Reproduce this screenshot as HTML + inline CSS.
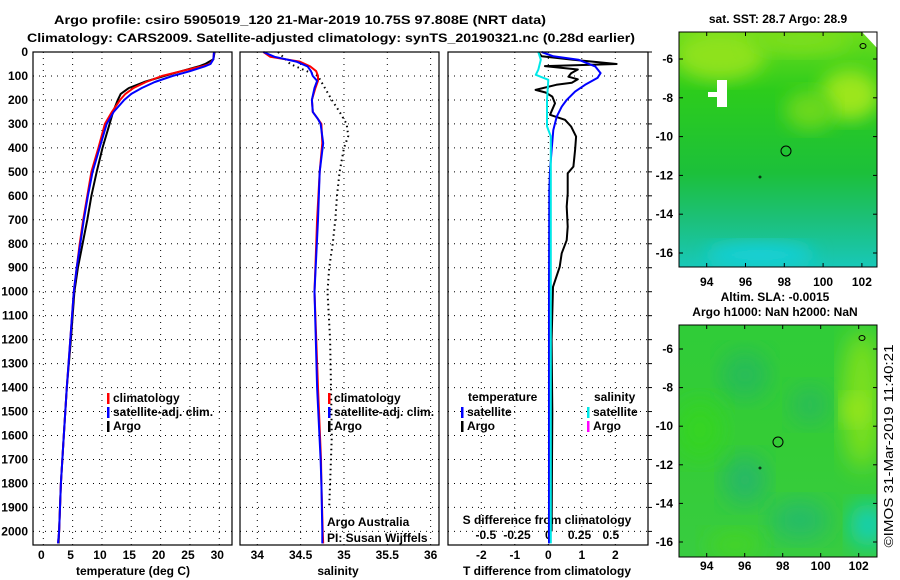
<!DOCTYPE html>
<html><head><meta charset="utf-8"><style>
html,body{margin:0;padding:0;background:#fff;}
svg{display:block;font-family:"Liberation Sans",Arial,sans-serif;}
.b{font-weight:bold;font-size:12px;}
</style></head><body>
<svg id="fig" width="900" height="580" viewBox="0 0 900 580" xmlns="http://www.w3.org/2000/svg">
<defs>
<filter id="blur1" x="-20%" y="-20%" width="140%" height="140%"><feGaussianBlur stdDeviation="9"/></filter>
<filter id="blur2" x="-20%" y="-20%" width="140%" height="140%"><feGaussianBlur stdDeviation="12"/></filter>
<clipPath id="cm1"><rect x="679" y="32" width="198" height="235"/></clipPath>
<clipPath id="cm2"><rect x="679" y="325" width="198" height="232"/></clipPath>
<linearGradient id="g1" x1="0" y1="0" x2="0" y2="1">
<stop offset="0" stop-color="#6cdc1c"/><stop offset="0.25" stop-color="#2ccc1c"/><stop offset="0.6" stop-color="#1cc03a"/><stop offset="0.8" stop-color="#1cc07a"/><stop offset="1" stop-color="#18c8b8"/></linearGradient>
<linearGradient id="g2" x1="0" y1="0" x2="0" y2="1">
<stop offset="0" stop-color="#30cc38"/><stop offset="0.5" stop-color="#34cc36"/><stop offset="1" stop-color="#38cc40"/></linearGradient>
</defs>
<text class="b" x="300" y="24" text-anchor="middle" font-size="13" textLength="492" lengthAdjust="spacingAndGlyphs">Argo profile: csiro 5905019_120 21-Mar-2019 10.75S 97.808E (NRT data)</text>
<text class="b" x="331" y="42" text-anchor="middle" font-size="13" textLength="608" lengthAdjust="spacingAndGlyphs">Climatology: CARS2009. Satellite-adjusted climatology: synTS_20190321.nc (0.28d earlier)</text>
<g id="panels"></g>
<g id="maps">
<text class="b" x="778" y="23" text-anchor="middle">sat. SST: 28.7 Argo: 28.9</text>
<g clip-path="url(#cm1)">
<rect x="679" y="32" width="198" height="235" fill="url(#g1)"/>
<ellipse cx="720" cy="55" rx="45" ry="25" fill="#8ee21a" filter="url(#blur1)"/>
<ellipse cx="800" cy="40" rx="50" ry="14" fill="#7ade1a" filter="url(#blur1)"/>
<ellipse cx="850" cy="95" rx="30" ry="25" fill="#9ce61a" filter="url(#blur1)"/>
<ellipse cx="810" cy="110" rx="25" ry="20" fill="#6ad81c" filter="url(#blur1)"/>
<ellipse cx="760" cy="255" rx="55" ry="12" fill="#12d0d8" filter="url(#blur1)"/>
<rect x="717" y="80" width="10" height="27" fill="#fff"/><rect x="708" y="92" width="12" height="5" fill="#fff"/>
<polygon points="862,32 877,32 877,48" fill="#fff"/>
</g>
<rect x="679" y="32" width="198" height="235" fill="none" stroke="#000"/>
<circle cx="786" cy="151" r="5" fill="none" stroke="#000"/>
<circle cx="760" cy="177" r="1" fill="none" stroke="#000" stroke-width="0.8"/>
<ellipse cx="863" cy="46" rx="3" ry="2.5" fill="none" stroke="#000"/>
<text class="b" x="775" y="301" text-anchor="middle">Altim. SLA: -0.0015</text>
<text class="b" x="775" y="316" text-anchor="middle">Argo h1000: NaN h2000: NaN</text>
<g clip-path="url(#cm2)">
<rect x="679" y="325" width="198" height="232" fill="url(#g2)"/>
<ellipse cx="745" cy="375" rx="25" ry="25" fill="#28bc58" filter="url(#blur2)"/>
<ellipse cx="745" cy="480" rx="22" ry="25" fill="#26b868" filter="url(#blur2)"/>
<ellipse cx="800" cy="520" rx="30" ry="20" fill="#26bc68" filter="url(#blur2)"/>
<ellipse cx="810" cy="405" rx="20" ry="20" fill="#2abc58" filter="url(#blur2)"/>
<ellipse cx="868" cy="525" rx="18" ry="22" fill="#10d0c0" filter="url(#blur2)"/>
<ellipse cx="862" cy="400" rx="20" ry="70" fill="#7ee01a" filter="url(#blur2)"/>
<ellipse cx="855" cy="410" rx="12" ry="14" fill="#a8ea1a" filter="url(#blur2)"/>
<ellipse cx="735" cy="545" rx="28" ry="14" fill="#44d420" filter="url(#blur2)"/>
<ellipse cx="700" cy="430" rx="25" ry="30" fill="#36d420" filter="url(#blur2)"/>
</g>
<rect x="679" y="325" width="198" height="232" fill="none" stroke="#000"/>
<circle cx="778" cy="442" r="5" fill="none" stroke="#000"/>
<circle cx="760" cy="468" r="1" fill="none" stroke="#000" stroke-width="0.8"/>
<ellipse cx="862" cy="338" rx="3" ry="2.5" fill="none" stroke="#000"/>
<text x="893" y="446" font-size="13" text-anchor="middle" transform="rotate(-90 893 446)" textLength="203" lengthAdjust="spacingAndGlyphs">©IMOS 31-Mar-2019 11:40:21</text>
</g>
</svg>
<script>
// ---- data ----
const depthTicks = [0,100,200,300,400,500,600,700,800,900,1000,1100,1200,1300,1400,1500,1600,1700,1800,1900,2000];
const tempTicks = [0,5,10,15,20,25,30];
const salTicks = [34,34.5,35,35.5,36];
const salTickLabels = ["34","34.5","35","35.5","36"];
const dTTicks = [-2,-1,0,1,2];
const dSTicks = [-0.5,-0.25,0,0.25,0.5];
const dSTickLabels = ["-0.5","-0.25","0","0.25","0.5"];
const lonTicks = [94,96,98,100,102];
const latTicks = [-6,-8,-10,-12,-14,-16];

const depthT = [0,30,50,60,80,100,125,150,175,200,250,300,400,500,600,700,800,900,1000,1200,1400,1600,1800,2000,2050];
const tClim = [29.1,29.0,28.4,27.0,23.5,20.2,17.5,15.4,14.0,13.1,11.7,10.5,9.4,8.2,7.5,6.8,6.2,5.7,5.2,4.6,4.0,3.5,3.0,2.7,2.5];
const tSat  = [29.1,29.0,28.5,27.5,25.0,22.0,19.0,16.8,15.0,13.8,12.0,10.8,9.6,8.4,7.6,6.9,6.3,5.7,5.2,4.6,4.0,3.5,3.0,2.7,2.5];
const tArgo = [29.2,29.0,27.6,26.5,23.5,20.6,17.2,14.6,13.2,12.7,11.9,11.3,10.1,9.1,8.2,7.5,6.7,5.9,5.3,4.7,4.0,3.5,3.0,2.7,2.6];

const depthS = [0,20,40,60,80,100,120,150,200,250,280,300,380,500,700,1000,1400,1700,1800,2000,2050];
const sClim = [34.07,34.15,34.49,34.61,34.68,34.70,34.70,34.67,34.63,34.64,34.70,34.74,34.75,34.72,34.69,34.66,34.70,34.735,34.74,34.755,34.76];
const sSat  = [34.07,34.20,34.45,34.58,34.62,34.64,34.69,34.66,34.63,34.64,34.70,34.73,34.76,34.72,34.70,34.66,34.69,34.73,34.74,34.75,34.75];
const depthSArgo = [0,50,100,150,200,250,300,350,400,500,600,700,800,900,1000,1200,1400,1600,1800,1900];
const sArgo = [34.24,34.38,34.70,34.78,34.86,34.95,35.03,35.05,35.0,34.95,34.92,34.90,34.87,34.83,34.81,34.84,34.85,34.86,34.84,34.83];

const depthDTArgo = [0,18,32,50,59,73,89,103,114,128,137,158,169,186,214,262,283,311,353,408,478,506,590,645,729,785,840,896,980,1200,1500,2000];
const dTArgo = [-0.3,-0.2,0.74,2.04,-0.1,0.88,0.68,0.6,0.88,0.7,0.24,-0.38,-0.08,0.12,0.2,0.05,0.5,0.68,0.83,0.8,0.75,0.58,0.58,0.55,0.58,0.55,0.4,0.34,0.14,0.1,0.12,0.1];
const depthDTSat = [0,18,32,60,88,108,137,165,200,228,270,326,410,494,578,1000,2000,2050];
const dTSat = [-0.2,0.15,0.9,1.4,1.56,1.47,1.1,0.8,0.55,0.4,0.25,0.15,0.1,0.05,0.03,0.02,0.02,0.02];
const depthDS = [0,32,74,95,116,200,310,352,500,1000,2000,2050];
const dSSat = [-0.08,-0.06,-0.08,-0.1,0.0,-0.01,-0.01,0.02,0.02,0.02,0.02,0.02];

// ---- axes ----
const TOP=52, BOT=545, PXD=0.2397;
const yD = d => TOP + d*PXD;
const xT = t => 43.3 + t*5.866;
const xS = s => 257.3 + (s-34)*86.67;
const xDT = v => 548.3 + v*33.5;
const xDS = v => 548.3 + v*125;
const P = [{x:33,w:199},{x:240,w:199},{x:448,w:200}];
const NS='http://www.w3.org/2000/svg';
const root=document.getElementById('panels');
function el(tag,attrs,parent){const e=document.createElementNS(NS,tag);for(const k in attrs)e.setAttribute(k,attrs[k]);(parent||root).appendChild(e);return e;}
function txt(x,y,s,anchor,parent,cls){const t=el('text',{x:x,y:y,'text-anchor':anchor||'middle','class':cls||'b'},parent);t.textContent=s;return t;}

P.forEach((p,i)=>{
  const g=el('g',{});
  
  
  depthTicks.forEach(d=>{ if(d>0){const l=el('line',{x1:p.x,x2:p.x+p.w,y1:yD(d),y2:yD(d),stroke:'#000','stroke-width':1,'stroke-dasharray':'1 5'},g);
    
    }});
});
function vgrid(vals,fx){vals.forEach(v=>{const l=el('line',{x1:fx(v),x2:fx(v),y1:TOP,y2:BOT,stroke:'#000','stroke-width':1,'stroke-dasharray':'1 5'});
  
  });}
vgrid(tempTicks,xT);vgrid(salTicks,xS);vgrid(dTTicks,xDT);
depthTicks.forEach(d=>{const t=txt(28,yD(d)+4,String(d),'end');
  
  
  const k=el('line',{x1:648,x2:652,y1:yD(d),y2:yD(d),stroke:'#000'});
  
  
});
tempTicks.forEach(v=>{const t=txt(xT(v)-2,559,String(v));});
salTicks.forEach((v,i)=>{const t=txt(xS(v),559,salTickLabels[i]);});
dTTicks.forEach(v=>{const t=txt(xDT(v),559,String(v));});
dSTicks.forEach((v,i)=>{const t=txt(xDS(v),539,dSTickLabels[i]);});
let a=txt(133,575,'temperature (deg C)');
a=txt(338,575,'salinity');
a=txt(547,575,'T difference from climatology');
a=txt(547,524,'S difference from climatology');

function line(depths,vals,fx,color,name,dash,w){
  const pts=vals.map((v,i)=>fx(v).toFixed(1)+','+yD(depths[i]).toFixed(1)).join(' ');
  const attrs={points:pts,fill:'none',stroke:color,'stroke-width':w||2,'stroke-linejoin':'round'};
  if(dash)attrs['stroke-dasharray']=dash;
  const l=el('polyline',attrs);
  
  
}
line(depthT,tArgo,xT,'#000','temp-argo-line');
line(depthT,tClim,xT,'#f00','temp-climatology-line');
line(depthT,tSat,xT,'#00f','temp-satellite-line');
line(depthSArgo,sArgo,xS,'#000','salinity-argo-line','1.5 3.5',2);
line(depthS,sClim,xS,'#f00','salinity-climatology-line');
line(depthS,sSat,xS,'#00f','salinity-satellite-line');
line(depthDTArgo,dTArgo,xDT,'#000','t-diff-argo-line');
line(depthDTSat,dTSat,xDT,'#00f','t-diff-satellite-line');
line(depthDS,dSSat,xDS,'#00e8e8','s-diff-satellite-line');
P.forEach((p,i)=>{const r=el('rect',{x:p.x,y:TOP,width:p.w,height:BOT-TOP,fill:'none',stroke:'#000','stroke-width':1.2});
  
  });

function leg(x,y,color,label,nm){
  const m=el('rect',{x:x,y:y-9,width:2.5,height:11,fill:color});
  
  
  const t=txt(x+6,y,label,'start');
  
  
}
leg(107,402,'#f00','climatology','legend-temp-climatology');
leg(107,416,'#00f','satellite-adj. clim.','legend-temp-satellite');
leg(107,430,'#000','Argo','legend-temp-argo');
leg(328,402,'#f00','climatology','legend-sal-climatology');
leg(328,416,'#00f','satellite-adj. clim.','legend-sal-satellite');
leg(328,430,'#000','Argo','legend-sal-argo');
a=txt(468,401,'temperature','start');
a=txt(594,401,'salinity','start');
leg(461,416,'#00f','satellite','legend-t-diff-satellite');
leg(461,430,'#000','Argo','legend-t-diff-argo');
leg(587,416,'#00e8e8','satellite','legend-s-diff-satellite');
leg(587,430,'#f0f','Argo','legend-s-diff-argo');
a=txt(327,526,'Argo Australia','start',null,'');a.setAttribute('font-size','12');
a=txt(327,542,'PI: Susan Wijffels','start',null,'');a.setAttribute('font-size','12');

const maps=document.getElementById('maps');
function mapAxes(x0,y0,y1,lat6,pxLat,lon94,pxLon,labY,id){
  latTicks.forEach(v=>{const y=lat6+(-6-v)*pxLat;
    el('line',{x1:x0,x2:x0+4,y1:y,y2:y,stroke:'#000'},maps);
    el('line',{x1:877,x2:873,y1:y,y2:y,stroke:'#000'},maps);
    const t=txt(x0-6,y+4,String(v),'end',maps);
    
    });
  lonTicks.forEach(v=>{const x=lon94+(v-94)*pxLon;
    el('line',{x1:x,x2:x,y1:y1,y2:y1-4,stroke:'#000'},maps);
    el('line',{x1:x,x2:x,y1:y0,y2:y0+4,stroke:'#000'},maps);
    const t=txt(x,labY,String(v),'middle',maps);
    
    });
}
mapAxes(679,32,267,59,19.4,706.7,19.4,286,'sst-map');
mapAxes(679,325,557,349,19.3,706.7,19.0,570,'sla-map');
</script>
</body></html>
